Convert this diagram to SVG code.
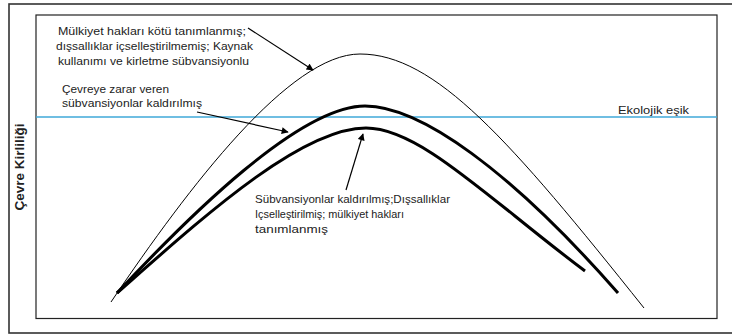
<svg xmlns="http://www.w3.org/2000/svg" width="732" height="336" viewBox="0 0 732 336">
<style>
text{font-family:"Liberation Sans",Arial,sans-serif;font-size:11.8px;fill:#222}
.thin{fill:none;stroke:#000;stroke-width:1}
.thick{fill:none;stroke:#000;stroke-width:3}
.arr{fill:none;stroke:#000;stroke-width:1.2;marker-end:url(#ah)}
</style>
<defs>
<marker id="ah" viewBox="0 0 10 10" refX="9" refY="5" markerWidth="9" markerHeight="7" markerUnits="userSpaceOnUse" orient="auto">
<path d="M0,0 L10,5 L0,10 z" fill="#000"/>
</marker>
</defs>
<rect x="0" y="0" width="732" height="336" fill="#fff"/>
<g id="frame">
<rect x="9" y="4" width="730" height="329" fill="none" stroke="#333" stroke-width="1.6"/>
<rect x="36" y="15" width="681" height="303.5" fill="none" stroke="#222" stroke-width="1.2"/>
</g>
<g id="threshold">
<line x1="36" y1="117" x2="717" y2="117" stroke="#3fa9d9" stroke-width="1.3"/>
<text x="618" y="114" textLength="71" lengthAdjust="spacingAndGlyphs">Ekolojik eşik</text>
</g>
<g id="axis-label">
<text transform="translate(24,167) rotate(-90)" text-anchor="middle" style="font-weight:bold;font-size:12px" textLength="87" lengthAdjust="spacingAndGlyphs">Çevre Kirliliği</text>
</g>
<g id="curve-top">
<path class="thin" d="M111,302 C190,185 290,54 360,54 C435,54 510,140 644,308"/>
</g>
<g id="curve-middle">
<path class="thick" d="M117,293 C190,215 300,106 365,106 C420,106 510,170 618,293"/>
</g>
<g id="curve-lower">
<path class="thick" d="M117,293 C200,220 300,128 366,128 C420,128 490,200 585,271"/>
</g>
<g id="label-top">
<text x="58" y="35" textLength="188" lengthAdjust="spacingAndGlyphs">Mülkiyet hakları kötü tanımlanmış;</text>
<text x="56" y="50" textLength="197" lengthAdjust="spacingAndGlyphs">dışsallıklar içselleştirilmemiş; Kaynak</text>
<text x="58" y="65" textLength="191" lengthAdjust="spacingAndGlyphs">kullanımı ve kirletme sübvansiyonlu</text>
</g>
<g id="label-middle">
<text x="62" y="93" textLength="107" lengthAdjust="spacingAndGlyphs">Çevreye zarar veren</text>
<text x="62" y="107" textLength="140" lengthAdjust="spacingAndGlyphs">sübvansiyonlar kaldırılmış</text>
</g>
<g id="label-lower">
<text x="255" y="203" textLength="195" lengthAdjust="spacingAndGlyphs">Sübvansiyonlar kaldırılmış;Dışsallıklar</text>
<text x="255" y="218" textLength="149" lengthAdjust="spacingAndGlyphs">Içselleştirilmiş; mülkiyet hakları</text>
<text x="255" y="233" textLength="73" lengthAdjust="spacingAndGlyphs">tanımlanmış</text>
</g>
<g id="connectors">
<line class="arr" x1="248" y1="28" x2="313" y2="70"/>
<line class="arr" x1="197" y1="112" x2="288" y2="132"/>
<line class="arr" x1="346" y1="190" x2="363" y2="134"/>
</g>
</svg>
